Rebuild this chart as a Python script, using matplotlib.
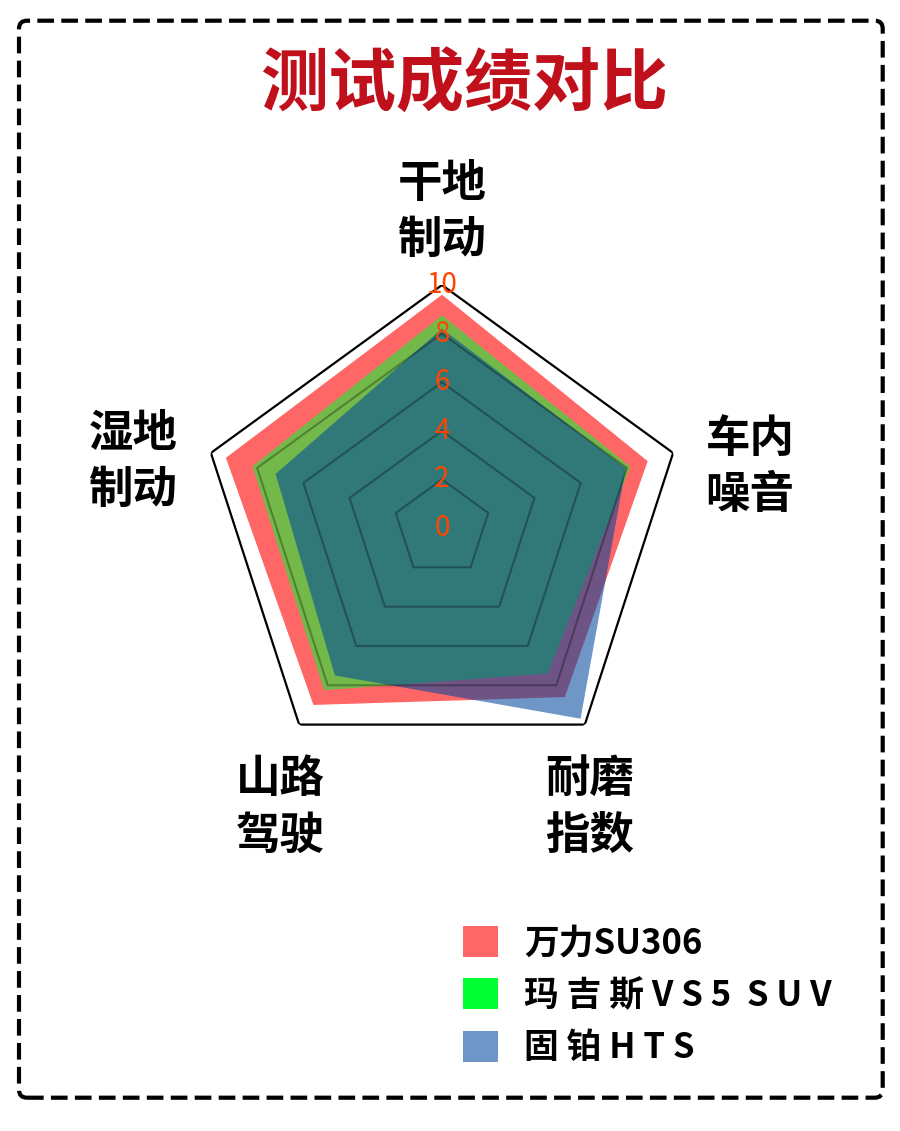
import numpy as np
import matplotlib.pyplot as plt
from matplotlib.patches import FancyBboxPatch, Patch
from matplotlib.transforms import IdentityTransform

plt.rcParams['font.family'] = ['Noto Sans CJK SC', 'DejaVu Sans']

# data
categories = ['干地\n制动', '车内\n噪音', '耐磨\n指数', '山路\n驾驶', '湿地\n制动']
tires = ['万力SU306', '玛 吉 斯 V S 5  S U V', '固 铂 H T S']
wanli = [9.6, 8.9, 8.6, 9.0, 9.35]
maxxis = [8.75, 8.15, 7.4, 8.25, 8.2]
cooper = [8.2, 7.95, 9.7, 7.5, 7.2]
rticks = [0, 2, 4, 6, 8, 10]

W, H = 900, 1131
fig = plt.figure(figsize=(W/100, H/100), dpi=100)

# radar axes placed by pixel centre / radius
cx, cy, R = 442, 528, 243
ax = fig.add_axes([(cx-R)/W, (H-cy-R)/H, 2*R/W, 2*R/H], projection='polar')
ax.set_theta_offset(np.pi/2)
ax.set_theta_direction(-1)
ax.set_ylim(0, 10)
ax.set_axis_off()

n = len(categories)
ang = np.linspace(0, 2*np.pi, n, endpoint=False)
ang_c = np.append(ang, ang[0])

def closed(v):
    return np.append(v, v[0])

ax.fill(ang_c, closed(wanli), color='red', alpha=0.6, lw=0, zorder=2)
ax.fill(ang_c, closed(maxxis), color='#00ff33', alpha=0.55, lw=0, zorder=3)
ax.fill(ang_c, closed(cooper), color='#00489e', alpha=0.57, lw=0, zorder=4)

# pentagon grid
for r in rticks[1:-1]:
    ax.plot(ang_c, [r]*(n+1), color='black', alpha=0.3, lw=1.5, zorder=5)
ax.plot(ang_c, [rticks[-1]]*(n+1), color='black', lw=1.6, zorder=5)

for r in rticks:
    ax.text(0, r, str(r), color='#ff4500', fontsize=20, ha='center', va='center', zorder=6)

# category labels, offset in pixels from the outer vertex
label_offsets = [(0, 73), (77, -14), (5, -83), (-19, -83), (-78, -9)]
for a, lab, off in zip(ang, categories, label_offsets):
    ax.annotate(lab, xy=(a, 10), xytext=off, textcoords='offset pixels',
                ha='center', va='center', fontsize=32, fontweight='bold',
                linespacing=1.3, annotation_clip=False)

fig.text(464/W, 1-86/H, '测试成绩对比', fontsize=49, fontweight='black',
         color='#c0101c', ha='center', va='center')

handles = [Patch(facecolor='red', alpha=0.6),
           Patch(facecolor='#00ff33'),
           Patch(facecolor='#00489e', alpha=0.57)]
fig.legend(handles, tires, loc='upper left', bbox_to_anchor=(446/W, 1-908/H),
           frameon=False, borderpad=0, handlelength=1.0, handleheight=1.0,
           handletextpad=0.75, labelspacing=0.5,
           prop={'size': 25, 'weight': 'bold'})

frame = FancyBboxPatch((19, H-1097.7), 863.7, 1077,
                       boxstyle='round,pad=0,rounding_size=8',
                       transform=IdentityTransform(), fill=False,
                       ec='black', lw=3, ls=(0, (4, 1.75)))
fig.add_artist(frame)

fig.savefig('out.png', dpi=100)
